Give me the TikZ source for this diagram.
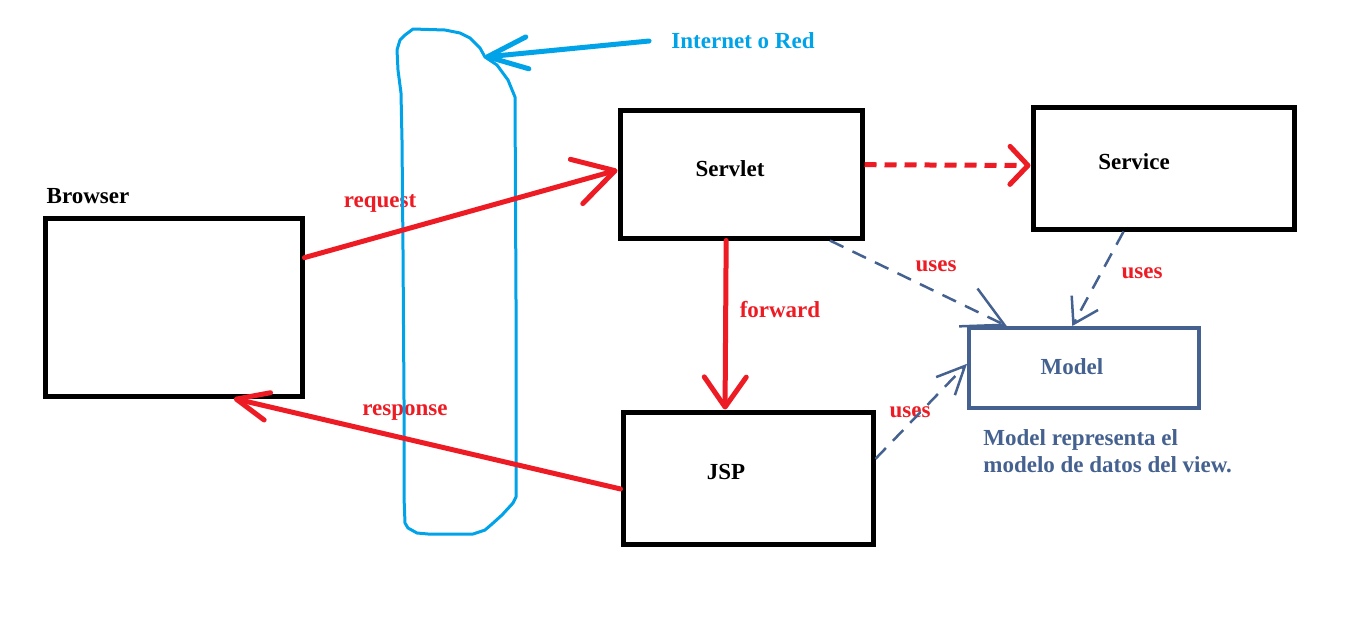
\documentclass[tikz,border=0pt]{standalone}
\usepackage{fontspec}
\setmainfont{Liberation Serif}
\usetikzlibrary{arrows.meta,calc}
\definecolor{pred}{HTML}{ED1C24}
\definecolor{pcyan}{HTML}{00A2E8}
\definecolor{mblue}{HTML}{44618F}
\begin{document}
\begin{tikzpicture}[x=0.5pt,y=-0.5pt,
  box/.style={draw=black,line width=2.5pt,inner sep=0pt},
  modelbox/.style={draw=mblue,line width=2pt,inner sep=0pt},
  lbl/.style={font=\bfseries\fontsize{11.5}{13.5}\selectfont,inner sep=0pt},
  redlbl/.style={lbl,text=pred},
  redarrow/.style={draw=pred,line width=2.5pt,line cap=round},
  reddash/.style={draw=pred,line width=2.5pt,dash pattern=on 6pt off 4pt},
  usesarrow/.style={draw=mblue,line width=1.25pt,dash pattern=on 7.5pt off 5pt},
  cloud/.style={draw=pcyan,line width=1.5pt,line join=round},
]
\useasboundingbox (0,0) rectangle (1362,634);

% boxes
\node[box,minimum width=128.5pt,minimum height=89pt] (browser) at (173.5,307) {};
\node[box,minimum width=121pt,minimum height=64pt] (servlet) at (741,174) {};
\node[box,minimum width=130.5pt,minimum height=61pt] (service) at (1163.5,168) {};
\node[box,minimum width=125pt,minimum height=66pt] (jsp) at (748,478) {};
\node[modelbox,minimum width=115pt,minimum height=40pt] (model) at (1084,368) {};

% labels
\node[lbl] (tbrowser) at (88,196) {Browser};
\node[lbl] (tservlet) at (730,169) {Servlet};
\node[lbl] (tservice) at (1134,162) {Service};
\node[lbl] (tjsp) at (726,472) {JSP};
\node[lbl,text=mblue] (tmodel) at (1072,367) {Model};
\node[lbl,text=mblue,anchor=west,align=left] (note) at (983,451) {Model representa el\\modelo de datos del view.};
\node[lbl,text=pcyan] (internet) at (743,41) {Internet o Red};
\node[redlbl] (lrequest) at (380,203) {request};
\node[redlbl] (lforward) at (780,310) {forward};
\node[redlbl] (lresponse) at (405,412) {response};
\node[redlbl] (luses1) at (936,266) {uses};
\node[redlbl] (luses2) at (1142,273) {uses};
\node[redlbl] (luses3) at (910,412) {uses};

% network outline
\draw[cloud] (404,497) -- (404,400) -- (403,250) -- (402,140) -- (401,93) -- (398,70) -- (397,50)
  -- (400,40) -- (405,35) -- (413,29) -- (445,30) -- (460,33) -- (470,38) -- (480,48)
  -- (485,57) -- (497,65) -- (508,80) -- (515,97) -- (516,300) -- (516,497)
  -- (513,503) -- (502,515) -- (492,524) -- (485,530) -- (473,534) -- (428,534)
  -- (417,533) -- (408,528) -- (405,523) -- cycle;
\coordinate (cloudtip) at (485,57);
\draw[pcyan,line width=2.5pt,line cap=round,
  -{Straight Barb[length=20pt,width=16pt,round]}]
  ([xshift=-11pt]internet.west) -- (cloudtip);

% red connectors
\draw[redarrow,-{Straight Barb[length=20pt,width=23pt,round]}]
  ($(browser.north east)!0.23!(browser.south east)$) -- ($(servlet.north west)!0.47!(servlet.south west)$);
\draw[redarrow,-{Straight Barb[length=15pt,width=21pt,round]}]
  ($(servlet.south west)!0.44!(servlet.south east)$) -- ($(jsp.north west)!0.41!(jsp.north east)$);
\draw[redarrow,-{Straight Barb[length=16pt,width=14pt,round]}]
  ($(jsp.north west)!0.58!(jsp.south west)$) -- ($(browser.south west)!0.73!(browser.south east)$);
\draw[reddash,-{Straight Barb[length=9pt,width=19pt,round]}]
  ($(servlet.north east)!0.43!(servlet.south east)$) -- ($(service.north west)!0.48!(service.south west)$);

% uses connectors
\draw[usesarrow,-{Straight Barb[length=20pt,width=21pt]}]
  ($(servlet.south west)!0.86!(servlet.south east)$) -- ($(model.north west)!0.17!(model.north east)$);
\draw[usesarrow,-{Straight Barb[length=12pt,width=15pt]}]
  ($(service.south west)!0.35!(service.south east)$) -- ($(model.north west)!0.45!(model.north east)$);
\draw[usesarrow,-{Straight Barb[length=14pt,width=13pt]}]
  ($(jsp.north east)!0.36!(jsp.south east)$) -- ($(model.north west)!0.45!(model.south west)$);
\end{tikzpicture}
\end{document}
